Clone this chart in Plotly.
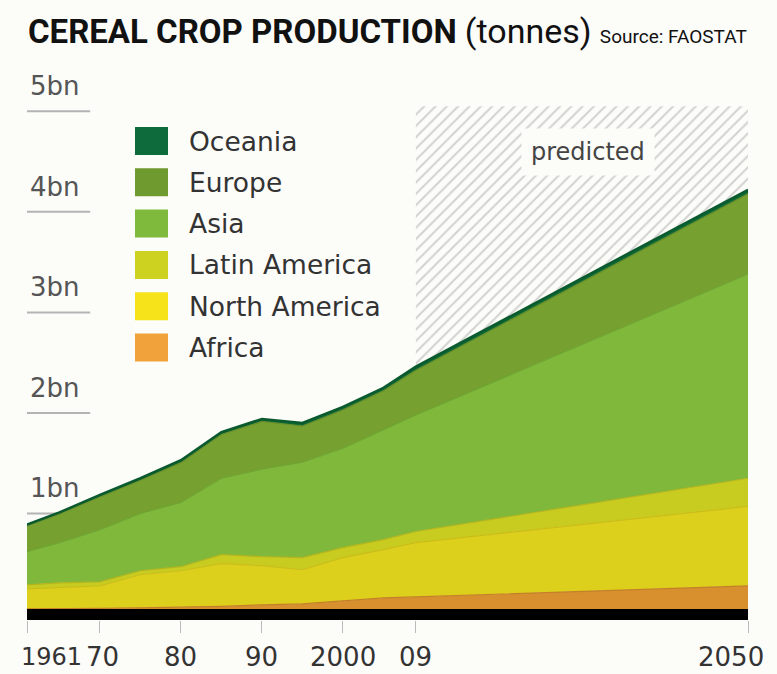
import plotly.graph_objects as go

# Cereal production by region, billion tonnes
years = [1961, 1965, 1970, 1975, 1980, 1985, 1990, 1995, 2000, 2005, 2009, 2050]
africa = [0.05, 0.05, 0.055, 0.06, 0.065, 0.075, 0.09, 0.10, 0.13, 0.16, 0.17, 0.28]
north_america = [0.20, 0.21, 0.224, 0.33, 0.365, 0.425, 0.39, 0.34, 0.43, 0.48, 0.54, 0.79]
latin_america = [0.04, 0.05, 0.04, 0.04, 0.04, 0.09, 0.09, 0.12, 0.10, 0.10, 0.11, 0.28]
asia = [0.33, 0.40, 0.52, 0.57, 0.64, 0.76, 0.87, 0.95, 0.99, 1.09, 1.16, 2.03]
europe = [0.255, 0.285, 0.325, 0.33, 0.395, 0.435, 0.475, 0.36, 0.38, 0.39, 0.445, 0.80]
oceania = [0.015, 0.015, 0.02, 0.02, 0.025, 0.025, 0.025, 0.03, 0.03, 0.03, 0.035, 0.04]

regions = ['Africa', 'North America', 'Latin America', 'Asia', 'Europe', 'Oceania']
series = [africa, north_america, latin_america, asia, europe, oceania]
fill_colors = ['#d8902f', '#ddd01d', '#c8cc21', '#80b83b', '#76a02f', '#0d6a37']
edge_colors = ['#c47f28', '#cbbd18', '#b4b51c', '#6ea432', '#678d29', '#0a5a2e']
legend_colors = ['#f2a23a', '#f7e31a', '#ccd21f', '#7fba3d', '#6f9a2f', '#0e6b3b']

tick_years = [1961, 1970, 1980, 1990, 2000, 2009, 2050]
tick_text = ['1961', '70', '80', '90', '2000', '09', '2050']
y_levels = [1, 2, 3, 4, 5]
forecast_start, forecast_end, forecast_top = 2009, 2050, 5.05

BG = '#fcfcf9'
TXT = 'DejaVu Sans'

# plot area in pixels: x 27..748, y 51..620
def px(x):
    return (x - 27) / 721

def py(y):
    return (620 - y) / 569


fig = go.Figure()

# hatched "predicted" zone, behind the areas
fig.add_trace(go.Scatter(
    x=[forecast_start, forecast_end, forecast_end, forecast_start, forecast_start],
    y=[0, 0, forecast_top, forecast_top, 0],
    fill='toself', mode='lines', line=dict(width=0), fillcolor=BG,
    fillpattern=dict(shape='/', fgcolor='#a8a8a8', bgcolor=BG, size=8, solidity=0.25),
    showlegend=False, hoverinfo='skip'))

for name, vals, fc, ec in zip(regions, series, fill_colors, edge_colors):
    fig.add_trace(go.Scatter(
        x=years, y=vals, name=name, stackgroup='one', mode='lines',
        fillcolor=fc, line=dict(color=ec, width=2.5 if name == 'Oceania' else 1.2),
        showlegend=False))

shapes = [
    # thick black baseline
    dict(type='rect', xref='x', yref='y', x0=years[0], x1=years[-1], y0=-0.06, y1=0.05,
         fillcolor='black', line=dict(width=0), layer='above'),
]
annotations = []

# short grey rules under the "bn" labels
for v in y_levels:
    shapes.append(dict(type='line', xref='x', yref='y', x0=1961, x1=1968.8, y0=v, y1=v,
                       line=dict(color='#b4b4b4', width=2), layer='below'))
    annotations.append(dict(x=1961, y=v + 0.25, xref='x', yref='y', text=f'{v}bn',
                            showarrow=False, xanchor='left', xshift=1,
                            font=dict(family=TXT, size=26, color='#555555')))

# x labels
for yr, lab in zip(tick_years, tick_text):
    anchor, shift, size = 'center', 0, 26
    if lab == '1961':
        anchor, shift, size = 'left', -8, 24
    elif lab == '70':
        shift = 3
    elif lab == '2050':
        anchor, shift = 'right', 18
    annotations.append(dict(x=yr, y=py(657), xref='x', yref='paper', text=lab,
                            showarrow=False, xanchor=anchor, xshift=shift, yanchor='middle',
                            font=dict(family=TXT, size=size, color='#333333')))

# legend, drawn by hand so the swatches can be big
order = list(zip(regions, legend_colors))[::-1]
for i, (name, col) in enumerate(order):
    top = 127 + 41.3 * i
    shapes.append(dict(type='rect', xref='paper', yref='paper',
                       x0=px(135), x1=px(168), y0=py(top + 28), y1=py(top),
                       fillcolor=col, line=dict(width=0)))
    annotations.append(dict(x=px(187), y=py(top + 14), xref='paper', yref='paper',
                            text=name, showarrow=False, xanchor='left', yanchor='middle',
                            font=dict(family=TXT, size=26.5, color='#333333')))

annotations.append(dict(x=2030.3, y=4.6, xref='x', yref='y', text='predicted',
                        showarrow=False, bgcolor=BG, borderpad=9,
                        font=dict(family=TXT, size=24, color='#444444')))

annotations.append(dict(
    x=px(26), y=py(31), xref='paper', yref='paper', xanchor='left', yanchor='middle',
    showarrow=False,
    text="<b>CEREAL CROP PRODUCTION</b> <span style='font-family:Roboto;font-size:34px'>(tonnes)</span>"
         " <span style='font-family:Roboto;font-size:19px'>Source: FAOSTAT</span>",
    font=dict(family='Roboto', size=33, color='#111111')))

fig.update_layout(
    width=777, height=674,
    margin=dict(l=27, r=29, t=51, b=54),
    paper_bgcolor=BG, plot_bgcolor=BG,
    xaxis=dict(range=[years[0], years[-1]], tickvals=tick_years, showticklabels=False,
               ticks='outside', ticklen=12, tickcolor='#bbbbbb', tickwidth=1,
               showgrid=False, zeroline=False, showline=False, fixedrange=True),
    yaxis=dict(range=[-0.06, 5.6], visible=False, fixedrange=True),
    shapes=shapes, annotations=annotations,
    showlegend=False,
)

fig.write_html("out.html", config={'displayModeBar': False},
               post_script="document.body.style.margin='0px';")
